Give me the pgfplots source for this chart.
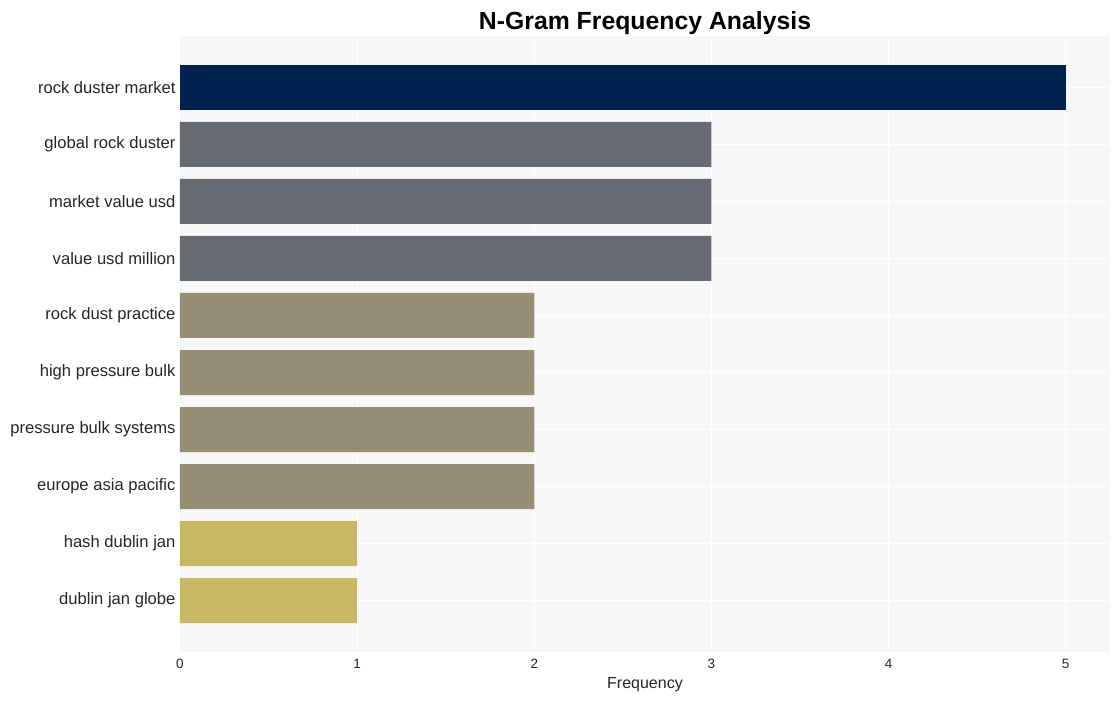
\documentclass[border=0pt]{standalone}
\usepackage{fontspec}
\setmainfont{Liberation Sans}
\usepackage{pgfplots}
\pgfplotsset{compat=1.18}
\definecolor{bgc}{HTML}{F7F7F7}
\definecolor{cnavy}{HTML}{00224E}
\definecolor{cgray}{HTML}{686A72}
\definecolor{ckhaki}{HTML}{958E75}
\definecolor{cgold}{HTML}{C8B765}
\definecolor{txt}{HTML}{262626}
\begin{document}
\begin{tikzpicture}
\begin{axis}[
  scale only axis,
  width=930pt, height=616pt,
  xmin=0, xmax=5.25,
  ymin=-0.9, ymax=9.9,
  y dir=reverse,
  axis background/.style={fill=bgc},
  axis line style={draw=none},
  xtick={0,1,2,3,4,5},
  ytick={0,1,2,3,4,5,6,7,8,9},
  yticklabels={rock duster market,global rock duster,market value usd,value usd million,rock dust practice,high pressure bulk,pressure bulk systems,europe asia pacific,hash dublin jan,dublin jan globe},
  yticklabel style={font=\fontsize{16.6}{19}\selectfont, text=txt, xshift=-1pt},
  xticklabel style={font=\fontsize{13.5}{16}\selectfont, text=txt, yshift=-4pt},
  /pgf/number format/assume math mode=true,
  tick style={draw=none},
  major tick length=0pt,
  grid=major,
  major grid style={draw=white, line width=1pt},
  xlabel={Frequency},
  xlabel style={font=\fontsize{16}{19}\selectfont, text=txt, yshift=-2pt},
  title={N-Gram Frequency Analysis},
  title style={font=\fontsize{24.8}{30}\selectfont\bfseries, yshift=-8pt},
  xbar, bar width=45pt, bar shift=0pt,
  every axis plot/.append style={draw=none},
  clip=false,
]
\addplot[fill=cnavy, draw=none] coordinates {(5,0)};
\addplot[fill=cgray, draw=none] coordinates {(3,1) (3,2) (3,3)};
\addplot[fill=ckhaki, draw=none] coordinates {(2,4) (2,5) (2,6) (2,7)};
\addplot[fill=cgold, draw=none] coordinates {(1,8) (1,9)};
\end{axis}
\useasboundingbox ([xshift=-180pt,yshift=-49pt]current axis.south west) rectangle ([xshift=10pt,yshift=36pt]current axis.north east);
\end{tikzpicture}
\end{document}
